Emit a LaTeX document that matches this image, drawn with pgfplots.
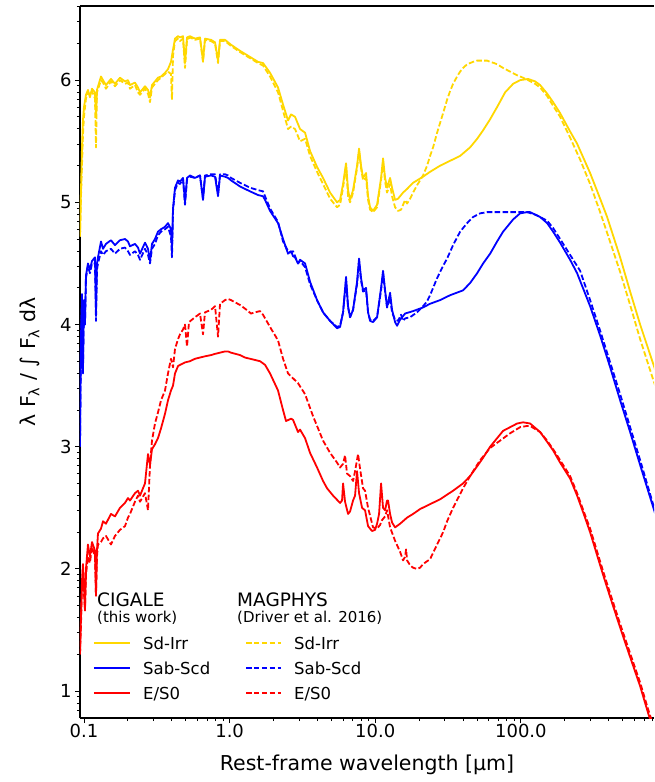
\documentclass[border=0pt]{standalone}
\usepackage{fontspec}
\setmainfont{DejaVu Sans}
\usepackage{pgfplots}
\pgfplotsset{compat=1.18}
\definecolor{cgold}{HTML}{FFD700}
\definecolor{cblue}{HTML}{0000FF}
\definecolor{cred}{HTML}{FF0000}
\tikzset{sol/.style={line width=1.8pt, line join=round},
         dsh/.style={line width=1.8pt, line join=round, dash pattern=on 5.5pt off 2.4pt}}
\begin{document}
\begin{tikzpicture}
\begin{axis}[
  scale only axis, width=574pt, height=712pt,
  xmode=log, xmin=0.0939, xmax=820, ymin=0.78, ymax=6.607,
  axis y line*=left, axis x line*=box,
  xtick={0.1,1,10,100}, xticklabels={0.1,1.0,10.0,100.0},
  minor xtick={0.2,0.3,0.4,0.5,0.6,0.7,0.8,0.9,2,3,4,5,6,7,8,9,20,30,40,50,60,70,80,90,200,300,400,500,600,700,800},
  ytick={1,2,3,4,5,6},
  minor ytick={0.8451,0.9031,0.9542,1.301,1.4771,1.6021,1.699,1.7782,1.8451,1.9031,1.9542,2.301,2.4771,2.6021,2.699,2.7782,2.8451,2.9031,2.9542,3.301,3.4771,3.6021,3.699,3.7782,3.8451,3.9031,3.9542,4.301,4.4771,4.6021,4.699,4.7782,4.8451,4.9031,4.9542,5.301,5.4771,5.6021,5.699,5.7782,5.8451,5.9031,5.9542,6.301,6.4771,6.6021},
  xtick pos=left, ytick pos=left,
  tick align=outside,
  major tick length=5pt, minor tick length=3pt,
  every tick/.style={black, line width=0.9pt},
  axis line style={line width=1.1pt},
  /pgf/number format/assume math mode=true,
  tick label style={font=\fontsize{18}{20}\selectfont},
  xticklabel style={yshift=2pt},
  xlabel={Rest-frame wavelength [µm]},
  ylabel={λ F\textsubscript{λ} / ∫ F\textsubscript{λ} dλ},
  label style={font=\fontsize{20.5}{24}\selectfont},
  xlabel style={at={(axis description cs:0.5,-0.066)}, anchor=center},
  ylabel style={at={(axis description cs:-0.0871,0.5)}, anchor=center},
]
% Sd-Irr CIGALE
\addplot[cgold, sol] coordinates {(0.0939,4.72)(0.0954,5.1)(0.0969,5.45)(0.0984,5.67)(0.1,5.78)(0.1032,5.88)(0.1065,5.92)(0.1099,5.86)(0.1135,5.93)(0.119,5.9)(0.1209,5.7)(0.1228,5.92)(0.1309,6.03)(0.1351,6.0)(0.1416,5.96)(0.1532,6.01)(0.1633,5.97)(0.1767,6.02)(0.1912,5.99)(0.2005,6.0)(0.207,5.96)(0.224,5.98)(0.2349,5.94)(0.2425,5.9)(0.2624,5.95)(0.2752,5.92)(0.284,5.86)(0.2931,5.96)(0.3073,5.99)(0.3222,6.02)(0.338,6.03)(0.3601,6.06)(0.3775,6.09)(0.3958,6.15)(0.4086,6.25)(0.4217,6.34)(0.4422,6.36)(0.4564,6.35)(0.4786,6.36)(0.4939,6.14)(0.5099,6.35)(0.5346,6.36)(0.5786,6.34)(0.6261,6.35)(0.6566,6.16)(0.6776,6.34)(0.7452,6.33)(0.7942,6.31)(0.8326,6.16)(0.8593,6.33)(0.9299,6.33)(0.975,6.31)(1.0224,6.29)(1.179,6.24)(1.381,6.19)(1.567,6.15)(1.696,6.14)(1.895,6.06)(2.15,5.94)(2.327,5.8)(2.518,5.67)(2.641,5.72)(2.813,5.7)(3.045,5.6)(3.296,5.57)(3.567,5.42)(3.984,5.29)(4.38,5.2)(4.894,5.08)(5.466,5.0)(5.731,5.02)(6.01,5.15)(6.301,5.32)(6.504,5.1)(6.713,5.02)(7.039,5.1)(7.499,5.3)(7.74,5.44)(7.989,5.3)(8.245,5.2)(8.646,5.24)(8.924,5.05)(9.211,4.96)(9.658,4.93)(10.29,4.98)(10.96,5.2)(11.31,5.36)(11.68,5.2)(12.05,5.12)(12.64,5.2)(13.04,5.12)(13.68,5.02)(14.34,5.03)(15.52,5.08)(16.54,5.11)(18.18,5.16)(21.29,5.21)(23.79,5.25)(27.87,5.3)(32.64,5.34)(38.24,5.38)(44.79,5.45)(50.05,5.52)(55.02,5.59)(61.47,5.68)(68.65,5.78)(77.9,5.9)(88.4,5.97)(98.7,6.0)(112.1,6.01)(125.2,5.99)(135.5,5.96)(151.4,5.89)(166.4,5.82)(185.9,5.73)(217.7,5.58)(243.2,5.48)(298.7,5.24)(349.9,5.03)(390.9,4.88)(480.1,4.55)(562.3,4.27)(658.7,4.0)(809.1,3.68)(903.6,3.5)};
% Sd-Irr MAGPHYS
\addplot[cgold, dsh] coordinates {(0.0939,4.72)(0.0954,5.05)(0.0969,5.3)(0.0984,5.55)(0.1,5.7)(0.1032,5.85)(0.1065,5.9)(0.1099,5.88)(0.1135,5.91)(0.119,5.85)(0.1209,5.45)(0.1228,5.9)(0.1309,6.0)(0.1351,5.98)(0.1416,5.93)(0.1532,5.99)(0.1633,5.95)(0.1767,6.0)(0.1912,5.97)(0.2005,5.98)(0.207,5.93)(0.224,5.96)(0.2349,5.9)(0.2425,5.88)(0.2624,5.93)(0.2752,5.89)(0.284,5.82)(0.2931,5.94)(0.3073,5.97)(0.3222,6.0)(0.338,6.02)(0.3601,6.05)(0.3775,6.07)(0.3958,6.05)(0.402,5.84)(0.4086,6.2)(0.4217,6.32)(0.4422,6.34)(0.4564,6.32)(0.4786,6.34)(0.4939,6.1)(0.5099,6.33)(0.5346,6.35)(0.5786,6.33)(0.6261,6.34)(0.6566,6.15)(0.6776,6.33)(0.7452,6.32)(0.7942,6.3)(0.8326,6.14)(0.8593,6.32)(0.9299,6.32)(0.975,6.3)(1.0224,6.28)(1.179,6.23)(1.381,6.18)(1.567,6.14)(1.696,6.12)(1.895,6.03)(2.15,5.9)(2.327,5.75)(2.518,5.6)(2.641,5.62)(2.813,5.6)(3.045,5.5)(3.296,5.52)(3.567,5.38)(3.984,5.25)(4.38,5.15)(4.894,5.03)(5.466,4.96)(5.731,4.98)(6.01,5.12)(6.301,5.3)(6.504,5.05)(6.713,5.0)(7.039,5.08)(7.499,5.28)(7.74,5.42)(7.989,5.28)(8.245,5.18)(8.646,5.2)(8.924,5.02)(9.211,4.94)(9.658,4.92)(10.29,4.96)(10.96,5.18)(11.31,5.33)(11.68,5.17)(12.05,5.08)(12.64,5.15)(13.04,5.05)(13.68,4.96)(14.34,4.93)(15.04,4.94)(15.52,4.98)(16.02,5.02)(16.54,4.99)(17.34,5.03)(18.18,5.08)(19.36,5.14)(20.31,5.18)(21.29,5.22)(22.69,5.3)(23.79,5.38)(24.95,5.45)(26.58,5.57)(27.87,5.65)(29.22,5.73)(31.13,5.84)(32.64,5.91)(34.22,5.97)(36.47,6.03)(38.24,6.07)(40.09,6.1)(42.72,6.13)(44.79,6.14)(46.96,6.15)(50.05,6.16)(55.02,6.16)(58.63,6.16)(61.47,6.15)(65.47,6.14)(68.65,6.13)(75.46,6.1)(84.3,6.07)(94.2,6.04)(103.5,6.02)(112.1,6.0)(125.2,5.97)(135.5,5.94)(151.4,5.87)(166.4,5.79)(185.9,5.7)(217.7,5.53)(255.0,5.35)(298.7,5.15)(349.9,4.92)(390.9,4.75)(480.1,4.43)(562.3,4.16)(658.7,3.88)(809.1,3.55)(903.6,3.38)};
% Sab-Scd CIGALE
\addplot[cblue, sol] coordinates {(0.0939,3.0)(0.0954,3.9)(0.0969,4.25)(0.0984,3.6)(0.1,4.2)(0.1016,4.0)(0.1032,4.4)(0.1065,4.5)(0.1099,4.45)(0.1135,4.52)(0.119,4.55)(0.1209,4.1)(0.1228,4.5)(0.1248,4.55)(0.1309,4.68)(0.1351,4.62)(0.1416,4.66)(0.1532,4.69)(0.1633,4.65)(0.1767,4.69)(0.1912,4.7)(0.2005,4.68)(0.207,4.64)(0.224,4.66)(0.2349,4.63)(0.2425,4.58)(0.2624,4.67)(0.2752,4.62)(0.284,4.52)(0.2931,4.66)(0.3073,4.7)(0.3222,4.76)(0.338,4.78)(0.3601,4.8)(0.3775,4.83)(0.3958,4.78)(0.402,4.62)(0.4086,4.95)(0.4217,5.12)(0.4422,5.18)(0.4564,5.17)(0.4786,5.2)(0.4939,5.0)(0.5099,5.2)(0.5346,5.22)(0.5786,5.2)(0.6261,5.22)(0.6566,5.02)(0.6776,5.21)(0.7452,5.22)(0.7942,5.21)(0.8326,5.05)(0.8593,5.22)(0.9299,5.21)(0.975,5.2)(1.0224,5.18)(1.179,5.13)(1.381,5.09)(1.567,5.06)(1.696,5.05)(1.751,5.02)(1.895,4.93)(2.15,4.83)(2.327,4.7)(2.518,4.58)(2.641,4.6)(2.725,4.56)(2.813,4.55)(2.95,4.5)(3.045,4.53)(3.296,4.5)(3.567,4.35)(3.984,4.2)(4.38,4.1)(4.894,4.03)(5.466,3.97)(5.731,3.98)(6.01,4.1)(6.301,4.39)(6.504,4.15)(6.713,4.06)(7.039,4.12)(7.499,4.35)(7.74,4.54)(7.989,4.38)(8.245,4.28)(8.646,4.3)(8.924,4.1)(9.211,4.03)(9.658,4.02)(10.29,4.06)(10.96,4.3)(11.31,4.44)(11.68,4.28)(12.05,4.14)(12.64,4.26)(13.04,4.12)(13.68,4.02)(14.12,3.99)(14.81,4.04)(16.02,4.09)(18.18,4.11)(21.29,4.14)(23.79,4.17)(27.87,4.2)(32.64,4.24)(40.09,4.28)(44.79,4.34)(50.05,4.42)(55.02,4.5)(61.47,4.58)(68.65,4.68)(75.46,4.76)(80.4,4.8)(88.4,4.86)(98.7,4.91)(110.3,4.92)(115.7,4.92)(125.2,4.9)(135.5,4.88)(151.4,4.83)(166.4,4.76)(185.9,4.67)(217.7,4.53)(243.2,4.42)(298.7,4.15)(349.9,3.91)(410.0,3.65)(480.1,3.38)(562.3,3.12)(658.7,2.85)(822,2.48)(903.6,2.32)};
% Sab-Scd MAGPHYS
\addplot[cblue, dsh] coordinates {(0.0939,3.0)(0.0954,3.85)(0.0969,4.2)(0.0984,3.65)(0.1,4.15)(0.1016,4.0)(0.1032,4.38)(0.1065,4.48)(0.1099,4.42)(0.1135,4.5)(0.119,4.5)(0.1209,4.03)(0.1228,4.45)(0.1248,4.5)(0.1309,4.6)(0.1351,4.57)(0.1416,4.6)(0.1532,4.62)(0.1633,4.58)(0.1767,4.62)(0.1912,4.63)(0.2005,4.6)(0.207,4.57)(0.224,4.6)(0.2349,4.57)(0.2425,4.53)(0.2624,4.62)(0.2752,4.57)(0.284,4.5)(0.2931,4.62)(0.3073,4.66)(0.3222,4.73)(0.338,4.76)(0.3601,4.78)(0.3775,4.8)(0.3958,4.72)(0.402,4.55)(0.4086,4.93)(0.4217,5.1)(0.4422,5.16)(0.4564,5.15)(0.4786,5.19)(0.4939,4.98)(0.5099,5.19)(0.5346,5.21)(0.5786,5.2)(0.6261,5.22)(0.6566,5.03)(0.6776,5.22)(0.7452,5.23)(0.7942,5.23)(0.8326,5.07)(0.8593,5.23)(0.9299,5.23)(0.975,5.22)(1.0224,5.2)(1.179,5.16)(1.381,5.12)(1.567,5.1)(1.696,5.09)(1.751,5.05)(1.895,4.95)(2.15,4.84)(2.327,4.68)(2.518,4.6)(2.641,4.59)(2.725,4.6)(2.813,4.56)(2.95,4.5)(3.045,4.52)(3.296,4.47)(3.567,4.33)(3.984,4.2)(4.38,4.1)(4.894,4.03)(5.466,3.98)(5.731,3.99)(6.01,4.1)(6.301,4.36)(6.504,4.14)(6.713,4.06)(7.039,4.12)(7.499,4.33)(7.74,4.52)(7.989,4.36)(8.245,4.27)(8.646,4.28)(8.924,4.1)(9.211,4.04)(9.658,4.03)(10.29,4.06)(10.96,4.28)(11.31,4.42)(11.68,4.27)(12.05,4.14)(12.64,4.22)(13.04,4.1)(13.68,4.04)(14.34,4.03)(15.04,4.08)(15.52,4.03)(16.02,4.05)(17.34,4.06)(19.36,4.1)(21.29,4.15)(22.69,4.19)(23.79,4.24)(26.58,4.38)(29.22,4.48)(31.13,4.54)(34.22,4.65)(38.24,4.76)(42.72,4.83)(46.96,4.88)(52.47,4.91)(58.63,4.92)(68.65,4.92)(80.4,4.92)(88.4,4.92)(98.7,4.92)(110.3,4.92)(125.2,4.9)(135.5,4.88)(151.4,4.85)(166.4,4.79)(185.9,4.7)(217.7,4.57)(255.0,4.44)(298.7,4.2)(349.9,3.95)(410.0,3.69)(480.1,3.43)(562.3,3.16)(658.7,2.89)(822,2.5)(903.6,2.34)};
% E/S0 CIGALE
\addplot[cred, sol] coordinates {(0.0939,1.3)(0.0954,1.6)(0.0969,1.9)(0.0984,2.04)(0.1,1.85)(0.1016,1.66)(0.1032,2.0)(0.1065,2.2)(0.1099,2.1)(0.1135,2.22)(0.119,2.15)(0.1209,1.78)(0.1228,2.15)(0.1248,2.29)(0.1309,2.33)(0.1351,2.39)(0.1416,2.37)(0.1532,2.45)(0.1633,2.43)(0.1767,2.5)(0.1912,2.54)(0.2005,2.58)(0.207,2.56)(0.224,2.62)(0.2349,2.64)(0.2425,2.6)(0.2624,2.7)(0.2752,2.94)(0.284,2.85)(0.2931,2.98)(0.3073,3.02)(0.3222,3.07)(0.338,3.15)(0.3601,3.27)(0.3775,3.38)(0.3958,3.46)(0.4086,3.5)(0.4217,3.6)(0.4422,3.66)(0.4564,3.67)(0.4939,3.69)(0.5346,3.7)(0.5786,3.72)(0.6261,3.73)(0.6776,3.74)(0.7452,3.75)(0.7942,3.76)(0.8593,3.77)(0.9299,3.78)(0.975,3.78)(1.0224,3.77)(1.179,3.75)(1.276,3.73)(1.381,3.72)(1.618,3.7)(1.751,3.67)(1.895,3.6)(2.15,3.46)(2.327,3.3)(2.44,3.21)(2.641,3.23)(2.725,3.22)(2.95,3.12)(3.045,3.14)(3.296,3.07)(3.567,2.95)(3.984,2.83)(4.38,2.72)(4.667,2.66)(5.131,2.6)(5.731,2.54)(5.916,2.56)(6.01,2.7)(6.203,2.55)(6.504,2.45)(6.713,2.47)(7.039,2.56)(7.266,2.6)(7.499,2.8)(7.74,2.62)(8.116,2.5)(8.51,2.48)(8.924,2.35)(9.506,2.31)(9.968,2.32)(10.29,2.37)(10.62,2.45)(10.96,2.7)(11.31,2.5)(11.68,2.48)(12.05,2.56)(12.24,2.56)(12.64,2.45)(13.04,2.38)(13.68,2.34)(14.81,2.37)(16.54,2.42)(18.18,2.45)(20.31,2.49)(23.79,2.53)(27.87,2.57)(34.22,2.64)(40.09,2.7)(44.79,2.76)(50.05,2.84)(55.02,2.91)(61.47,3.0)(68.65,3.07)(75.46,3.13)(84.3,3.16)(94.2,3.19)(103.5,3.2)(115.7,3.19)(135.5,3.12)(151.4,3.04)(166.4,2.97)(185.9,2.87)(217.7,2.74)(243.2,2.6)(270.0,2.45)(298.7,2.3)(367.0,1.95)(410.0,1.77)(480.1,1.52)(536.4,1.35)(658.7,1.04)(747.4,0.82)(903.6,0.52)};
% E/S0 MAGPHYS
\addplot[cred, dsh] coordinates {(0.0939,1.3)(0.0954,1.55)(0.0969,1.85)(0.0984,2.0)(0.1,1.8)(0.1016,1.66)(0.1032,1.95)(0.1065,2.1)(0.1099,2.05)(0.1135,2.18)(0.119,2.1)(0.1209,1.78)(0.1228,2.1)(0.1248,2.2)(0.1309,2.22)(0.1351,2.25)(0.1416,2.27)(0.1532,2.2)(0.1633,2.27)(0.1767,2.32)(0.1912,2.35)(0.2005,2.42)(0.207,2.45)(0.224,2.55)(0.2349,2.6)(0.2425,2.55)(0.2624,2.62)(0.2752,2.48)(0.284,2.85)(0.2931,3.05)(0.3073,3.19)(0.3222,3.28)(0.338,3.38)(0.3601,3.46)(0.3775,3.6)(0.3958,3.72)(0.4086,3.65)(0.4217,3.8)(0.4422,3.88)(0.4564,3.92)(0.4786,3.96)(0.4939,4.0)(0.5099,3.82)(0.5262,4.02)(0.5786,4.06)(0.6261,4.09)(0.6566,3.92)(0.6776,4.1)(0.7452,4.12)(0.7942,4.15)(0.8326,3.9)(0.8593,4.17)(0.9299,4.2)(0.975,4.21)(1.0224,4.2)(1.179,4.16)(1.276,4.13)(1.403,4.09)(1.495,4.1)(1.618,4.11)(1.696,4.08)(1.895,3.98)(2.15,3.87)(2.327,3.72)(2.518,3.6)(2.725,3.56)(2.95,3.52)(3.296,3.43)(3.74,3.25)(4.38,3.05)(4.894,2.95)(5.466,2.87)(5.731,2.83)(6.01,2.86)(6.203,2.93)(6.40,2.78)(6.713,2.76)(7.039,2.72)(7.266,2.8)(7.619,2.94)(7.864,2.82)(8.245,2.66)(8.51,2.64)(8.924,2.5)(9.658,2.34)(10.29,2.33)(10.79,2.36)(11.14,2.4)(11.68,2.43)(12.05,2.48)(12.64,2.34)(13.68,2.23)(14.81,2.14)(15.52,2.07)(16.02,2.1)(16.28,2.16)(16.54,2.07)(17.34,2.03)(18.18,2.01)(19.36,2.0)(20.31,2.01)(21.29,2.04)(23.79,2.08)(26.58,2.2)(29.22,2.3)(31.13,2.39)(34.22,2.5)(40.09,2.66)(44.79,2.76)(52.47,2.89)(61.47,2.99)(71.97,3.05)(84.3,3.11)(98.7,3.16)(110.3,3.17)(115.7,3.17)(135.5,3.12)(151.4,3.05)(166.4,2.98)(185.9,2.89)(217.7,2.76)(243.2,2.62)(270.0,2.47)(298.7,2.33)(367.0,1.98)(410.0,1.8)(480.1,1.55)(536.4,1.38)(658.7,1.07)(747.4,0.85)(903.6,0.55)};
\end{axis}
% legend
\begin{scope}[shift={(current axis.south west)}]
  \node[anchor=base west, inner sep=0pt, font=\fontsize{18.5}{20}\selectfont] at (17pt,111pt) {CIGALE};
  \node[anchor=base west, inner sep=0pt, font=\fontsize{15}{17}\selectfont] at (17pt,95.5pt) {(this work)};
  \node[anchor=base west, inner sep=0pt, font=\fontsize{18.5}{20}\selectfont] at (157pt,111pt) {MAGPHYS};
  \node[anchor=base west, inner sep=0pt, font=\fontsize{15}{17}\selectfont] at (157pt,95.5pt) {(Driver et al. 2016)};
  \draw[cgold, line width=1.8pt] (14pt,75.3pt) -- (50pt,75.3pt);
  \draw[cblue, line width=1.8pt] (14pt,50.3pt) -- (50pt,50.3pt);
  \draw[cred, line width=1.8pt] (14pt,25.3pt) -- (50pt,25.3pt);
  \draw[cgold, line width=1.8pt, dash pattern=on 5.5pt off 2.4pt] (166pt,75.3pt) -- (201pt,75.3pt);
  \draw[cblue, line width=1.8pt, dash pattern=on 5.5pt off 2.4pt] (166pt,50.3pt) -- (201pt,50.3pt);
  \draw[cred, line width=1.8pt, dash pattern=on 5.5pt off 2.4pt] (166pt,25.3pt) -- (201pt,25.3pt);
  \node[anchor=base west, inner sep=0pt, font=\fontsize{16.5}{18}\selectfont] at (63pt,68.7pt) {Sd-Irr};
  \node[anchor=base west, inner sep=0pt, font=\fontsize{16.5}{18}\selectfont] at (63pt,43.7pt) {Sab-Scd};
  \node[anchor=base west, inner sep=0pt, font=\fontsize{16.5}{18}\selectfont] at (63pt,18.7pt) {E/S0};
  \node[anchor=base west, inner sep=0pt, font=\fontsize{16.5}{18}\selectfont] at (214pt,68.7pt) {Sd-Irr};
  \node[anchor=base west, inner sep=0pt, font=\fontsize{16.5}{18}\selectfont] at (214pt,43.7pt) {Sab-Scd};
  \node[anchor=base west, inner sep=0pt, font=\fontsize{16.5}{18}\selectfont] at (214pt,18.7pt) {E/S0};
\end{scope}
\pgfresetboundingbox
\path[use as bounding box] ([shift={(-80pt,-64pt)}]current axis.south west) rectangle ([shift={(0pt,6pt)}]current axis.north east);
\end{tikzpicture}
\end{document}
